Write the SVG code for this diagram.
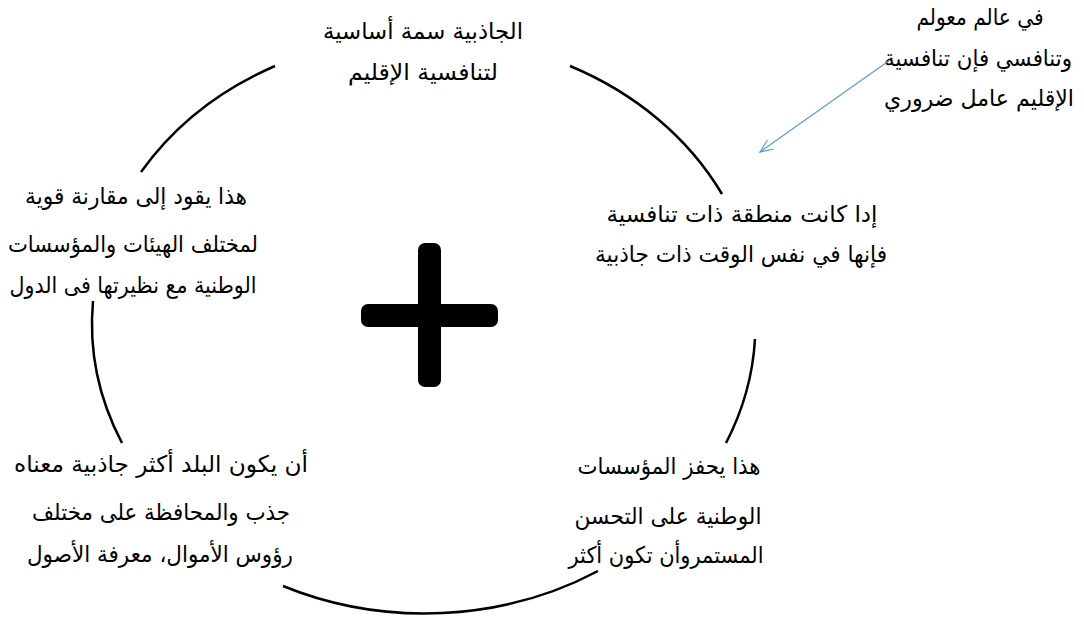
<svg xmlns="http://www.w3.org/2000/svg" width="1084" height="617" viewBox="0 0 1084 617">
<style>
.t{font-family:"DejaVu Sans","Noto Sans",sans-serif;font-size:23px;fill:#000;text-anchor:middle;direction:rtl;unicode-bidi:embed}
.arc{fill:none;stroke:#000;stroke-width:2.5}
.conn{fill:none;stroke:#5b9bd5;stroke-width:1.2}
</style>
<defs>
<marker id="ah" markerWidth="16" markerHeight="14" refX="14" refY="7" orient="auto" markerUnits="userSpaceOnUse">
<path d="M1,1.5 L14,7 L1,12.5" fill="none" stroke="#5b9bd5" stroke-width="1.2"/>
</marker>
</defs>
<rect width="1084" height="617" fill="#fff"/>
<g id="cycle">
<path class="arc" d="M141,172 A332,288 0 0 1 275,66"/>
<path class="arc" d="M570,66 A332,288 0 0 1 722,194"/>
<path class="arc" d="M755,339 A332,288 0 0 1 726,443"/>
<path class="arc" d="M598,571 A332,288 0 0 1 283,586"/>
<path class="arc" d="M122,443 A332,288 0 0 1 93,301"/>
</g>
<g id="plus">
<rect x="418" y="243" width="23" height="144" rx="7"/>
<rect x="361" y="304" width="137" height="23" rx="7"/>
</g>
<g id="node-top">
<text class="t" x="423" y="39" textLength="200" lengthAdjust="spacingAndGlyphs">الجاذبية سمة أساسية</text>
<text class="t" x="423" y="80" textLength="150" lengthAdjust="spacingAndGlyphs">لتنافسية الإقليم</text>
</g>
<g id="node-right">
<text class="t" x="742" y="222" textLength="271" lengthAdjust="spacingAndGlyphs">إدا كانت منطقة ذات تنافسية</text>
<text class="t" x="741" y="262" textLength="292" lengthAdjust="spacingAndGlyphs">فإنها في نفس الوقت ذات جاذبية</text>
</g>
<g id="node-bottom-right">
<text class="t" x="669" y="474" textLength="183" lengthAdjust="spacingAndGlyphs">هذا يحفز المؤسسات</text>
<text class="t" x="668" y="524" textLength="187" lengthAdjust="spacingAndGlyphs">الوطنية على التحسن</text>
<text class="t" x="666" y="563" textLength="195" lengthAdjust="spacingAndGlyphs">المستمروأن تكون أكثر</text>
</g>
<g id="node-bottom-left">
<text class="t" x="161" y="472" textLength="294" lengthAdjust="spacingAndGlyphs">أن يكون البلد أكثر جاذبية معناه</text>
<text class="t" x="161" y="520" textLength="258" lengthAdjust="spacingAndGlyphs">جذب والمحافظة على مختلف</text>
<text class="t" x="160" y="562" textLength="266" lengthAdjust="spacingAndGlyphs">رؤوس الأموال، معرفة الأصول</text>
</g>
<g id="node-left">
<text class="t" x="136" y="204" textLength="222" lengthAdjust="spacingAndGlyphs">هذا يقود إلى مقارنة قوية</text>
<text class="t" x="133" y="252" textLength="250" lengthAdjust="spacingAndGlyphs">لمختلف الهيئات والمؤسسات</text>
<text class="t" x="133" y="293" textLength="247" lengthAdjust="spacingAndGlyphs">الوطنية مع نظيرتها فى الدول</text>
</g>
<g id="note">
<text class="t" x="980" y="25" textLength="127" lengthAdjust="spacingAndGlyphs">في عالم معولم</text>
<text class="t" x="978" y="66" textLength="188" lengthAdjust="spacingAndGlyphs">وتنافسي فإن تنافسية</text>
<text class="t" x="979" y="106" textLength="190" lengthAdjust="spacingAndGlyphs">الإقليم عامل ضروري</text>
</g>
<g id="connectors">
<line class="conn" x1="890" y1="60" x2="760" y2="152" marker-end="url(#ah)"/>
</g>
</svg>
